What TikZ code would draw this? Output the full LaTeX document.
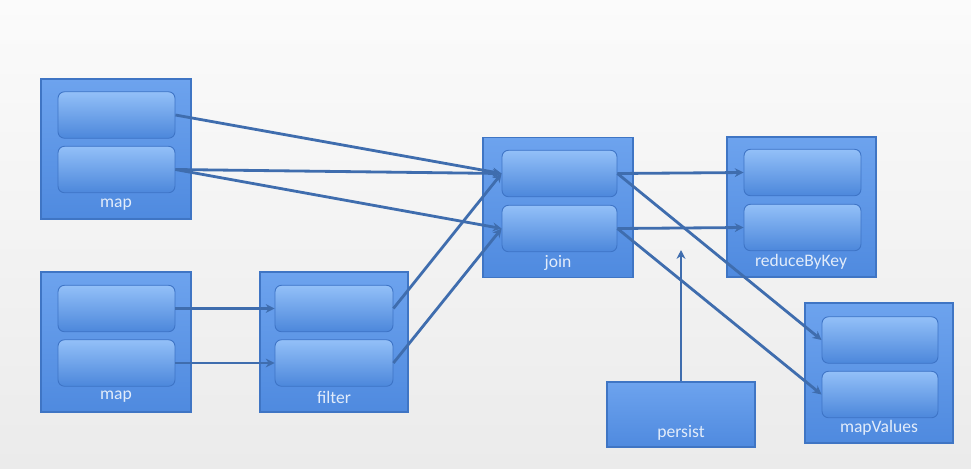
\documentclass[tikz,border=0pt]{standalone}
\usepackage{fontspec}
\setmainfont{Carlito}
\usetikzlibrary{arrows.meta}
\definecolor{outerA}{HTML}{6DA3EE}
\definecolor{outerB}{HTML}{4F8ADF}
\definecolor{outerD}{HTML}{3F75C4}
\definecolor{innerA}{HTML}{93C0F8}
\definecolor{innerB}{HTML}{4C87DB}
\definecolor{innerD}{HTML}{3E74C6}
\definecolor{lineC}{HTML}{3F6DAE}
\definecolor{labelC}{HTML}{E2ECFA}
\definecolor{bgA}{HTML}{FBFBFB}
\definecolor{bgB}{HTML}{EBEBEB}
\begin{document}
\begin{tikzpicture}[x=0.02cm,y=-0.02cm,
  outerbox/.style={draw=outerD, line width=0.6pt, top color=outerA, bottom color=outerB, minimum width=3cm, minimum height=2.8cm, inner sep=0pt},
  innerbox/.style={draw=innerD, line width=0.5pt, rounded corners=0.13cm, top color=innerA, bottom color=innerB, minimum width=2.34cm, minimum height=0.93cm, inner sep=0pt},
  lbl/.style={text=labelC, font=\fontsize{10}{12}\selectfont, inner sep=0pt},
  conn/.style={draw=lineC, line width=1.6pt, -{Stealth[length=5pt,width=5pt]}}]
\useasboundingbox (0,0) rectangle (971,468);
\shade[top color=bgA, bottom color=bgB] (0,0) rectangle (971,468);

% map 1
\node[outerbox] (m1) at (116,149) {};
\node[innerbox] (m1a) at (116.5,115) {};
\node[innerbox] (m1b) at (116.5,169.5) {};
\node[lbl] (m1l) at (116,205) {map};
% map 2
\node[outerbox] (m2) at (116,342) {};
\node[innerbox] (m2a) at (116.5,308.5) {};
\node[innerbox] (m2b) at (116.5,363) {};
\node[lbl] (m2l) at (116,397) {map};
% filter
\node[outerbox, minimum width=2.96cm] (f) at (334,342) {};
\node[innerbox, minimum width=2.36cm] (fa) at (334,308.5) {};
\node[innerbox, minimum width=2.36cm] (fb) at (334,363) {};
\node[lbl] (fl) at (334,397) {filter};
% join
\node[outerbox] (j) at (558,207.5) {};
\node[innerbox, minimum width=2.3cm] (ja) at (559.5,173.5) {};
\node[innerbox, minimum width=2.3cm] (jb) at (559.5,228.5) {};
\node[lbl] (jl) at (558,263) {join};
% reduceByKey
\node[outerbox, minimum width=2.98cm] (r) at (801.5,207) {};
\node[innerbox] (ra) at (802.5,172.5) {};
\node[innerbox] (rb) at (802.5,227.5) {};
\node[lbl] (rl) at (801,262) {reduceByKey};
% mapValues
\node[outerbox, minimum width=2.96cm] (v) at (879,373) {};
\node[innerbox, minimum width=2.32cm] (va) at (880,340) {};
\node[innerbox, minimum width=2.32cm] (vb) at (880,394.5) {};
\node[lbl] (vl) at (879,428) {mapValues};
% persist
\node[outerbox, minimum width=2.96cm, minimum height=1.3cm] (p) at (681,414.5) {};
\node[lbl] (pl) at (681,433) {persist};
\coordinate (pt) at (681,250);

% connectors
\draw[conn] (m1a.east) -- (ja.west);
\draw[conn] (m1b.east) -- (ja.west);
\draw[conn] (m1b.east) -- (jb.west);
\draw[conn] (m2a.east) -- (fa.west);
\draw[conn] (m2b.east) -- (fb.west);
\draw[conn] (fa.east) -- (ja.west);
\draw[conn] (fb.east) -- (jb.west);
\draw[conn] (ja.east) -- (ra.west);
\draw[conn] (ja.east) -- (va.west);
\draw[conn] (jb.east) -- (rb.west);
\draw[conn] (jb.east) -- (vb.west);
\draw[conn] (p.north) -- (pt);
\end{tikzpicture}
\end{document}
